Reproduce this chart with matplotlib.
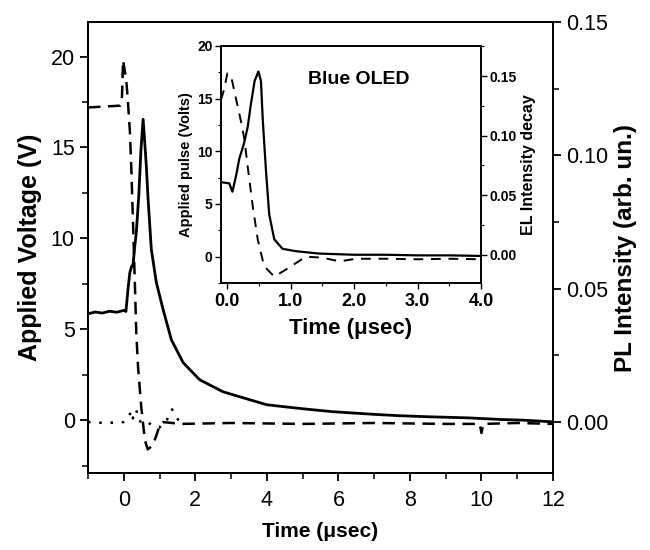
import matplotlib
matplotlib.use("Agg")
import matplotlib.pyplot as plt
from matplotlib.ticker import MultipleLocator

plt.rcParams["font.family"] = ["Liberation Sans", "DejaVu Sans"]

# main plot: PL intensity (right axis), applied voltage (left axis)
pl_time = [-1.0, -0.8, -0.6, -0.4, -0.2, 0.0, 0.06, 0.12, 0.17, 0.22, 0.26, 0.30,
           0.35, 0.42, 0.48, 0.54, 0.58, 0.63, 0.68, 0.77, 0.91, 1.1, 1.33, 1.66,
           2.12, 2.77, 3.24, 4.0, 5.0, 5.84, 7.0, 7.7, 8.5, 9.6, 10.5, 11.2, 12.0]
pl_int = [0.0405, 0.0412, 0.0408, 0.0415, 0.0411, 0.0418, 0.0414, 0.050, 0.056, 0.0583,
          0.059, 0.065, 0.071, 0.085, 0.102, 0.1135, 0.106, 0.096, 0.0835, 0.0647,
          0.0523, 0.0421, 0.0308, 0.0222, 0.0158, 0.0113, 0.0094, 0.0064, 0.0049,
          0.0038, 0.0028, 0.0023, 0.0019, 0.0015, 0.0009, 0.0006, 0.0]

volt_time = [-1.0, -0.1, -0.05, -0.02, 0.07, 0.12, 0.17, 0.21, 0.28, 0.35, 0.40, 0.49,
             0.59, 0.67, 0.80, 0.90, 1.0, 1.1, 1.6, 3.0, 5.0, 7.0, 9.0, 9.95, 10.0,
             10.05, 11.0, 12.0]
volt = [17.2, 17.3, 17.8, 19.8, 18.7, 17.4, 15.9, 13.9, 9.5, 4.8, 2.9, 0.7,
        -1.1, -1.6, -1.4, -0.9, -0.3, -0.1, -0.2, -0.15, -0.2, -0.15, -0.2, -0.2, -0.7,
        -0.2, -0.15, -0.2]

dot_time = [-1.0, -0.5, 0.0, 0.15, 0.2, 0.25, 0.35, 0.4, 0.5, 0.6, 0.8, 1.0, 1.1,
            1.2, 1.35, 1.45, 1.55, 1.7]
dot_volt = [-0.1, -0.15, -0.1, 0.2, 0.5, 0.1, 0.6, 0.0, -0.1, 0.0, -0.3, -0.4, -0.1,
            0.0, 0.6, 0.3, -0.1, -0.2]

# inset: Blue OLED
in_pulse_time = [-0.1, -0.05, 0.0, 0.06, 0.14, 0.22, 0.27, 0.32, 0.40, 0.48, 0.58,
                 0.74, 0.93, 1.24, 1.5, 1.77, 2.03, 2.5, 3.0, 3.5, 4.0]
in_pulse = [14.9, 15.9, 17.4, 17.1, 14.9, 12.7, 11.1, 8.6, 4.8, 1.6, -0.9,
            -1.9, -1.2, 0.0, -0.1, -0.45, -0.2, -0.2, -0.25, -0.2, -0.25]

in_el_time = [-0.1, 0.03, 0.08, 0.14, 0.19, 0.26, 0.32, 0.37, 0.43, 0.49, 0.53, 0.56,
              0.61, 0.66, 0.74, 0.87, 1.08, 1.45, 2.0, 2.5, 3.0, 3.5, 4.0]
in_el = [0.061, 0.060, 0.053, 0.067, 0.081, 0.093, 0.107, 0.126, 0.146, 0.154, 0.146,
         0.112, 0.070, 0.034, 0.013, 0.005, 0.003, 0.001, 0.0, 0.0, -0.0005, -0.0005, -0.001]

fig = plt.figure(figsize=(6.5, 5.5), dpi=100)
ax = fig.add_axes([0.1354, 0.14, 0.7154, 0.82])
ax2 = ax.twinx()

ax.plot(volt_time, volt, color="black", lw=1.8, ls=(0, (5, 3)))
ax.plot(dot_time, dot_volt, color="black", lw=1.8, ls=(0, (1, 3.5)))
ax2.plot(pl_time, pl_int, color="black", lw=2.0)

ax.set_xlim(-1, 12)
ax.set_ylim(-2.9, 21.9)
ax2.set_ylim(-0.0192, 0.15)

ax.xaxis.set_major_locator(MultipleLocator(2))
ax.xaxis.set_minor_locator(MultipleLocator(1))
ax.yaxis.set_major_locator(MultipleLocator(5))
ax.yaxis.set_minor_locator(MultipleLocator(2.5))
ax2.yaxis.set_minor_locator(MultipleLocator(0.025))
ax2.set_yticks([0.0, 0.05, 0.10, 0.15])
ax2.set_yticklabels(["0.00", "0.05", "0.10", "0.15"])

for a in (ax, ax2):
    a.tick_params(which="major", length=6, width=1.3, labelsize=15.5)
    a.tick_params(which="minor", length=4, width=1.1)
    for s in a.spines.values():
        s.set_linewidth(1.4)
ax.tick_params(axis="x", pad=6)

ax.set_xlabel("Time (\u03bcsec)", fontsize=15, fontweight="bold", labelpad=8)
ax.set_ylabel("Applied Voltage (V)", fontsize=18, fontweight="bold", labelpad=6)
ax2.set_ylabel("PL Intensity (arb. un.)", fontsize=17.5, fontweight="bold", labelpad=4)

# inset
axi = fig.add_axes([0.34, 0.4855, 0.4, 0.4309])
axi2 = axi.twinx()
axi.plot(in_pulse_time, in_pulse, color="black", lw=1.4, ls=(0, (5, 4)))
axi2.plot(in_el_time, in_el, color="black", lw=1.6)

axi.set_xlim(-0.1, 4.0)
axi.set_ylim(-2.5, 20)
axi2.set_ylim(-0.0237, 0.1754)
axi.xaxis.set_minor_locator(MultipleLocator(0.5))
axi.yaxis.set_major_locator(MultipleLocator(5))
axi.yaxis.set_minor_locator(MultipleLocator(2.5))
axi2.set_yticks([0.0, 0.05, 0.10, 0.15])
axi2.yaxis.set_minor_locator(MultipleLocator(0.025))
axi2.set_yticklabels(["0.00", "0.05", "0.10", "0.15"])
axi.set_xticks([0, 1, 2, 3, 4])
axi.set_xticklabels(["0.0", "1.0", "2.0", "3.0", "4.0"])

for a in (axi, axi2):
    a.tick_params(which="major", length=4, width=1.0, labelsize=10, pad=2)
    a.tick_params(which="minor", length=2.5, width=0.8)
    for s in a.spines.values():
        s.set_linewidth(1.2)
    for lab in a.get_xticklabels() + a.get_yticklabels():
        lab.set_fontweight("bold")
axi.tick_params(axis="x", labelsize=13, pad=3)
for lab in axi.get_xticklabels():
    lab.set_fontweight("bold")

axi.set_xlabel("Time (\u03bcsec)", fontsize=16, fontweight="bold", labelpad=6)
axi.set_ylabel("Applied pulse (Volts)", fontsize=10.5, fontweight="bold", labelpad=3)
axi2.set_ylabel("EL Intensity decay", fontsize=11.5, fontweight="bold", labelpad=3)
axi.text(0.53, 0.86, "Blue OLED", transform=axi.transAxes, fontsize=14,
         fontweight="bold", ha="center", va="center")

fig.savefig("out.png", dpi=100)
